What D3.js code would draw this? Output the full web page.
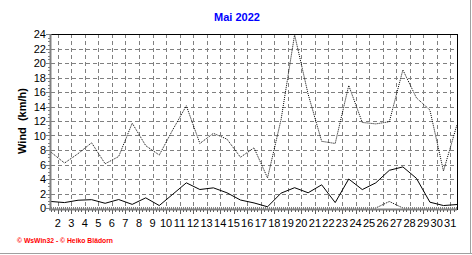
<html>
<head>
<meta charset="utf-8"/>
<title>Mai 2022</title>
<style>
body {margin: 0; background: #fff}
text {font-family: "Liberation Sans", Arial, sans-serif}
</style>
</head>
<body>
<div id="chart"></div>
<script src="https://d3js.org/d3.v7.min.js"></script>
<script>
// daily values for May 2022
var days = d3.range(1, 32)
var gust = [7.7, 6.2, 7.5, 9.0, 6.1, 7.1, 11.7, 8.6, 7.3, 10.8, 14.1, 8.9, 10.3, 9.5, 7.0, 8.3,
            4.15, 12.2, 23.9, 15.7, 9.2, 8.9, 16.9, 11.8, 11.6, 11.9, 19.05, 15.2, 13.5, 5.1, 11.5]
var avg = [0.9, 0.75, 1.07, 1.15, 0.65, 1.17, 0.5, 1.4, 0.34, 1.9, 3.47, 2.55, 2.78, 2.1, 1.1, 0.7,
           0.17, 2.05, 2.8, 2.1, 3.2, 0.75, 4.0, 2.54, 3.47, 5.2, 5.67, 4.1, 0.8, 0.34, 0.48]
var low = [0, 0, 0, 0, 0, 0, 0, 0, 0, 0, 0, 0, 0, 0, 0, 0,
           0, 0, 0, 0, 0, 0, 0, 0, 0, 0.9, 0, 0, 0, 0, 0]
var dayLabels = d3.range(2, 32)
var yTicks = d3.range(0, 25, 2)

var width = 472, height = 255
var pL = 51, pR = 457, pT = 34, pB = 208

var svg = d3.select("#chart").append("svg")
  .attr("width", width)
  .attr("height", height)

// label k sits at the start of day k, values at midday
var x = d3.scaleLinear().domain([1.5, 31.5]).range([pL, pR])
var y = d3.scaleLinear().domain([0, 24]).range([pB, pT])

// dashed grid
svg.append("g").selectAll("line")
  .data(yTicks.filter(function(d) { return d > 0 && d < 24 }))
  .enter().append("line")
  .attr("x1", pL).attr("x2", pR)
  .attr("y1", function(d) { return Math.round(y(d)) + 0.5 })
  .attr("y2", function(d) { return Math.round(y(d)) + 0.5 })
  .attr("stroke", "#808080")
  .attr("stroke-dasharray", "4,3")
svg.append("g").selectAll("line")
  .data(dayLabels)
  .enter().append("line")
  .attr("x1", function(d) { return Math.round(x(d)) + 0.5 })
  .attr("x2", function(d) { return Math.round(x(d)) + 0.5 })
  .attr("y1", pT).attr("y2", pB)
  .attr("stroke", "#808080")
  .attr("stroke-dasharray", "4,3")

var line = function(vals) {
  return d3.line()
    .x(function(d, i) { return x(days[i] + 0.5) })
    .y(function(d) { return y(d) })(vals)
}

svg.append("path").attr("d", line(low))
  .attr("fill", "none").attr("stroke", "#000").attr("stroke-dasharray", "1,1")
svg.append("path").attr("d", line(gust))
  .attr("fill", "none").attr("stroke", "#000").attr("stroke-dasharray", "1,1")
svg.append("path").attr("d", line(avg))
  .attr("fill", "none").attr("stroke", "#000")

// frame: black top and right, grey axes left and bottom
svg.append("line").attr("x1", pL).attr("x2", pR + 1).attr("y1", pT + 0.5).attr("y2", pT + 0.5)
  .attr("stroke", "#000")
svg.append("line").attr("x1", pR + 0.5).attr("x2", pR + 0.5).attr("y1", pT).attr("y2", pB + 2)
  .attr("stroke", "#000")
svg.append("line").attr("x1", pL - 0.5).attr("x2", pL - 0.5).attr("y1", pT).attr("y2", pB + 2)
  .attr("stroke", "#808080").attr("stroke-width", 2)
svg.append("line").attr("x1", pL - 2).attr("x2", pR).attr("y1", pB + 1.5).attr("y2", pB + 1.5)
  .attr("stroke", "#808080").attr("stroke-width", 2)

// minor ticks
svg.append("g").selectAll("line")
  .data(d3.range(1.5, 31.5, 0.25))
  .enter().append("line")
  .attr("x1", function(d) { return Math.round(x(d)) + 0.5 })
  .attr("x2", function(d) { return Math.round(x(d)) + 0.5 })
  .attr("y1", pB + 2).attr("y2", function(d) { return pB + (d % 1 === 0 ? 6 : 4) })
  .attr("stroke", "#606060")
svg.append("g").selectAll("line")
  .data(d3.range(0, 24.01, 0.5))
  .enter().append("line")
  .attr("x1", function(d) { return pL - (d % 2 === 0 ? 5 : 3) })
  .attr("x2", pL - 1)
  .attr("y1", function(d) { return Math.round(y(d)) + 0.5 })
  .attr("y2", function(d) { return Math.round(y(d)) + 0.5 })
  .attr("stroke", "#808080")

// tick labels
svg.append("g").selectAll("text")
  .data(yTicks)
  .enter().append("text")
  .attr("x", 46)
  .attr("y", function(d) { return y(d) + 4 })
  .attr("text-anchor", "end")
  .attr("font-size", 11)
  .text(function(d) { return d })
svg.append("g").selectAll("text")
  .data(dayLabels)
  .enter().append("text")
  .attr("x", function(d) { return x(d) })
  .attr("y", 227)
  .attr("text-anchor", "middle")
  .attr("font-size", 11)
  .text(function(d) { return d })

// titles
svg.append("text")
  .attr("x", 237).attr("y", 21)
  .attr("text-anchor", "middle")
  .attr("font-size", 11).attr("font-weight", "bold")
  .attr("fill", "#0000ff")
  .text("Mai 2022")
svg.append("text")
  .attr("transform", "translate(26," + (pT + pB) / 2 + ") rotate(-90)")
  .attr("text-anchor", "middle")
  .attr("font-size", 11).attr("font-weight", "bold")
  .style("white-space", "pre")
  .text("Wind  (km/h)")
svg.append("text")
  .attr("x", 17).attr("y", 243)
  .attr("font-size", 8).attr("font-weight", "bold")
  .attr("fill", "#ff0000")
  .attr("textLength", 96).attr("lengthAdjust", "spacingAndGlyphs")
  .text("\u00a9 WsWin32 - \u00a9 Heiko Blädorn")

// outer panel edge
svg.append("line").attr("x1", 0).attr("x2", width).attr("y1", 253.5).attr("y2", 253.5)
  .attr("stroke", "#a0a0a0")
svg.append("line").attr("x1", 470.5).attr("x2", 470.5).attr("y1", 0).attr("y2", 254)
  .attr("stroke", "#a0a0a0")
</script>
</body>
</html>
